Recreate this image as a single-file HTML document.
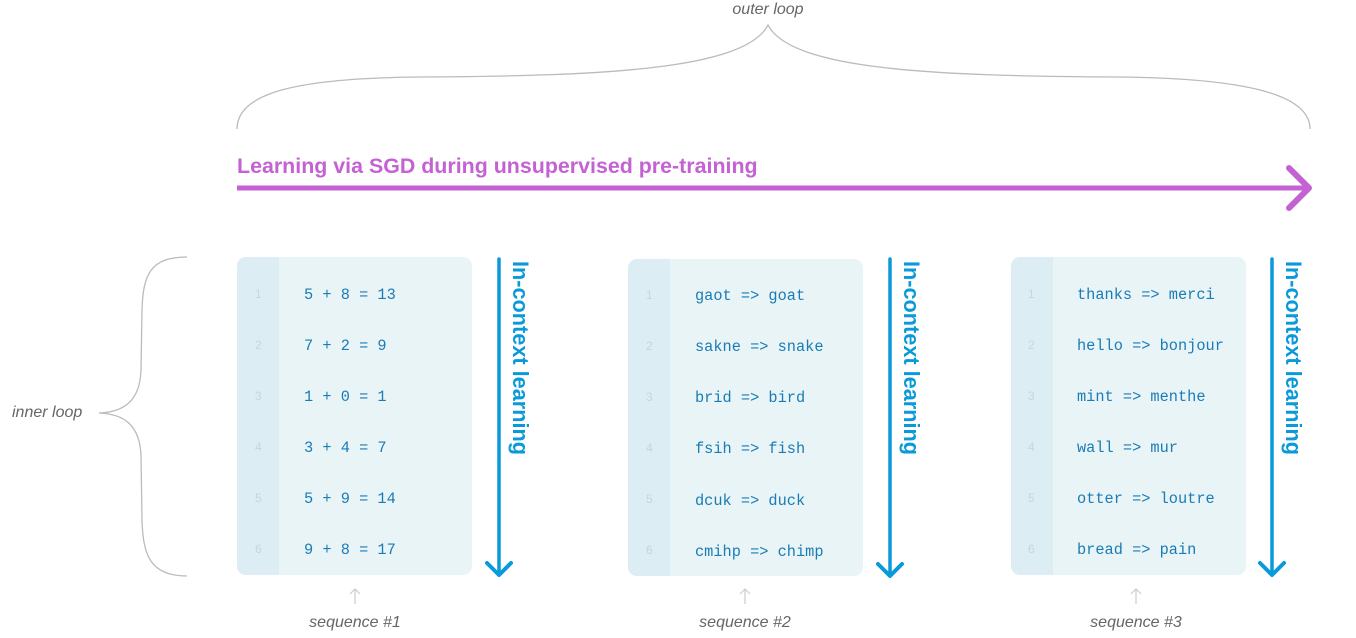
<!DOCTYPE html>
<html><head><meta charset="utf-8"><style>
html,body{margin:0;padding:0;background:#fff;}
svg{display:block;}
.it{font-family:"Liberation Sans",sans-serif;font-style:italic;fill:#666;font-size:16px;}
.mono{font-family:"Liberation Mono",monospace;font-size:15.3px;fill:#1a7cb5;}
.ln{font-family:"Liberation Sans",sans-serif;font-size:12px;fill:#c5d6df;}
.icl{font-family:"Liberation Sans",sans-serif;font-weight:bold;font-size:22px;fill:#0a9ad9;}
</style></head><body>
<svg width="1356" height="638" viewBox="0 0 1356 638" xmlns="http://www.w3.org/2000/svg">
<text class="it" x="768" y="14" text-anchor="middle" font-style="italic">outer loop</text>
<path d="M237,129 C237,92 300,78 420,77 C600,76 745,70 768,25 C791,70 936,76 1116,77 C1236,78 1310,92 1310,129" fill="none" stroke="#bbb" stroke-width="1.3"/>
<text x="237" y="173" font-family="Liberation Sans,sans-serif" font-weight="bold" font-size="21.4" fill="#c462d3">Learning via SGD during unsupervised pre-training</text>
<line x1="237" y1="188" x2="1308" y2="188" stroke="#c462d3" stroke-width="5"/>
<polyline points="1289,168 1309,188 1289,208" fill="none" stroke="#c462d3" stroke-width="6" stroke-linecap="round" stroke-linejoin="round"/>
<text class="it" x="12" y="417" font-style="italic">inner loop</text>
<path d="M187,257 C150,257 143,275 142,310 L141,370 C140,400 125,412 99,413 C125,414 140,426 141,456 L142,520 C143,555 150,576 187,576" fill="none" stroke="#bbb" stroke-width="1.3"/>
<rect x="237" y="257" width="235" height="318" rx="9" fill="#e9f4f7"/>
<path d="M246,257 H279 V575 H246 A9,9 0 0 1 237,566 V266 A9,9 0 0 1 246,257Z" fill="#dcedf4"/>
<rect x="628" y="259" width="235" height="317" rx="9" fill="#e9f4f7"/>
<path d="M637,259 H670 V576 H637 A9,9 0 0 1 628,567 V268 A9,9 0 0 1 637,259Z" fill="#dcedf4"/>
<rect x="1011" y="257" width="235" height="318" rx="9" fill="#e9f4f7"/>
<path d="M1020,257 H1053 V575 H1020 A9,9 0 0 1 1011,566 V266 A9,9 0 0 1 1020,257Z" fill="#dcedf4"/>
<g class="ln">
<text x="255" y="298">1</text><text x="255" y="349">2</text><text x="255" y="400">3</text><text x="255" y="451">4</text><text x="255" y="502">5</text><text x="255" y="553">6</text>
<text x="646" y="299">1</text><text x="646" y="350">2</text><text x="646" y="401">3</text><text x="646" y="452">4</text><text x="646" y="503">5</text><text x="646" y="554">6</text>
<text x="1028" y="298">1</text><text x="1028" y="349">2</text><text x="1028" y="400">3</text><text x="1028" y="451">4</text><text x="1028" y="502">5</text><text x="1028" y="553">6</text>
</g>
<g class="mono" xml:space="preserve">
<text x="304" y="299">5 + 8 = 13</text><text x="304" y="350">7 + 2 = 9</text><text x="304" y="401">1 + 0 = 1</text><text x="304" y="452">3 + 4 = 7</text><text x="304" y="503">5 + 9 = 14</text><text x="304" y="554">9 + 8 = 17</text>
<text x="695" y="300">gaot =&gt; goat</text><text x="695" y="351">sakne =&gt; snake</text><text x="695" y="402">brid =&gt; bird</text><text x="695" y="453">fsih =&gt; fish</text><text x="695" y="505">dcuk =&gt; duck</text><text x="695" y="556">cmihp =&gt; chimp</text>
<text x="1077" y="299">thanks =&gt; merci</text><text x="1077" y="350">hello =&gt; bonjour</text><text x="1077" y="401">mint =&gt; menthe</text><text x="1077" y="452">wall =&gt; mur</text><text x="1077" y="503">otter =&gt; loutre</text><text x="1077" y="554">bread =&gt; pain</text>
</g>
<g stroke="#0a9ad9" fill="none" stroke-linecap="round" stroke-linejoin="round">
<line x1="499" y1="259" x2="499" y2="575" stroke-width="3.5"/><polyline points="487,563 499,575 511,563" stroke-width="4"/>
<line x1="890" y1="259" x2="890" y2="576" stroke-width="3.5"/><polyline points="878,564 890,576 902,564" stroke-width="4"/>
<line x1="1272" y1="259" x2="1272" y2="575" stroke-width="3.5"/><polyline points="1260,563 1272,575 1284,563" stroke-width="4"/>
</g>
<text class="icl" transform="translate(513,261) rotate(90)" textLength="194" lengthAdjust="spacingAndGlyphs">In-context learning</text>
<text class="icl" transform="translate(904,261) rotate(90)" textLength="194" lengthAdjust="spacingAndGlyphs">In-context learning</text>
<text class="icl" transform="translate(1286,261) rotate(90)" textLength="194" lengthAdjust="spacingAndGlyphs">In-context learning</text>
<g stroke="#ccc" fill="none" stroke-width="1.2">
<path d="M355,604 V589 M350,594 L355,589 L360,594"/>
<path d="M745,604 V589 M740,594 L745,589 L750,594"/>
<path d="M1136,604 V589 M1131,594 L1136,589 L1141,594"/>
</g>
<text class="it" x="355" y="627" text-anchor="middle" font-style="italic">sequence #1</text>
<text class="it" x="745" y="627" text-anchor="middle" font-style="italic">sequence #2</text>
<text class="it" x="1136" y="627" text-anchor="middle" font-style="italic">sequence #3</text>
</svg>
</body></html>
